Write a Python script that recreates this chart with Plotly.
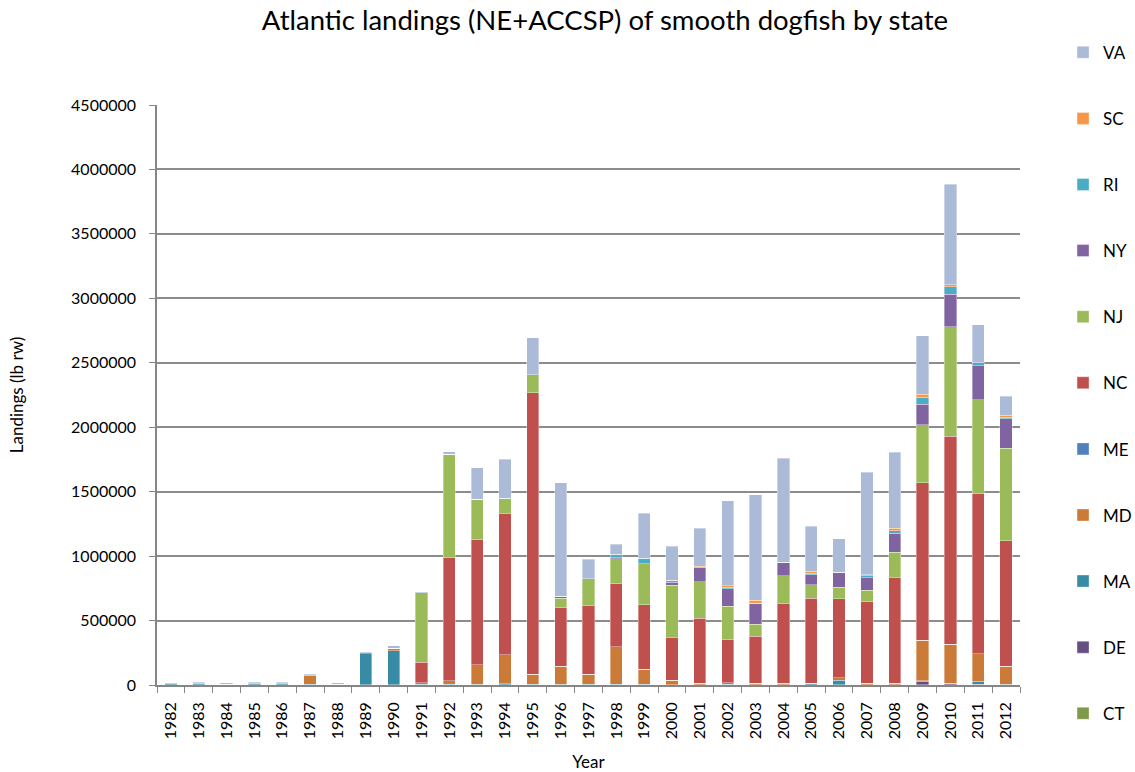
"""Atlantic landings (NE+ACCSP) of smooth dogfish by state - stacked bars."""

import plotly.graph_objects as go

YEARS = [str(y) for y in range(1982, 2013)]

# landings (lb rw) per state, 1982..2012
CT = [3000, 3000, 2000, 3000, 3000, 2000, 3000, 2000, 2000, 2000, 3000, 2000, 2000, 2000, 2000, 2000,
      2000, 2000, 1000, 1000, 2000, 1000, 1000, 1000, 1000, 1000, 1000, 1000, 1000, 1000, 1000]
DE = [0, 0, 0, 0, 0, 0, 0, 0, 0, 0, 0, 0, 0, 0, 0, 0,
      0, 0, 0, 0, 0, 0, 0, 0, 0, 0, 0, 27000, 9000, 3000, 2000]
MA = [5000, 6000, 5000, 5000, 5000, 3000, 4000, 240000, 265000, 2000, 2000, 2000, 8000, 2000, 2000, 2000,
      2000, 2000, 2000, 2000, 2000, 2000, 2000, 8000, 37000, 2000, 2000, 5000, 3000, 25000, 2000]
MD = [0, 0, 0, 0, 0, 65000, 0, 2000, 18000, 13000, 27000, 155000, 225000, 78000, 142000, 78000,
      294000, 118000, 32000, 10000, 12000, 12000, 12000, 5000, 20000, 10000, 12000, 316000, 305000, 215000, 140000]
ME = [0, 0, 0, 0, 0, 0, 0, 0, 0, 0, 0, 0, 0, 0, 0, 0,
      0, 0, 0, 0, 0, 0, 0, 0, 0, 0, 0, 0, 0, 0, 0]
NC = [0, 0, 0, 0, 0, 0, 0, 0, 0, 160000, 955000, 968000, 1097000, 2185000, 452000, 532000,
      487000, 500000, 337000, 503000, 340000, 364000, 620000, 661000, 610000, 634000, 821000, 1222000, 1613000, 1239000, 974000]
NJ = [0, 0, 0, 0, 0, 0, 0, 0, 2000, 540000, 805000, 316000, 115000, 139000, 75000, 211000,
      193000, 318000, 401000, 284000, 254000, 91000, 214000, 102000, 91000, 88000, 193000, 447000, 848000, 730000, 717000]
NY = [0, 0, 0, 0, 0, 0, 0, 8000, 0, 0, 0, 0, 0, 0, 16000, 0,
      11000, 0, 24000, 110000, 136000, 166000, 102000, 78000, 115000, 99000, 150000, 160000, 251000, 265000, 230000]
RI = [0, 0, 0, 0, 0, 0, 0, 0, 0, 0, 0, 0, 3000, 0, 0, 0,
      27000, 45000, 16000, 0, 11000, 0, 0, 13000, 0, 13000, 16000, 54000, 59000, 24000, 13000]
SC = [0, 0, 0, 0, 0, 0, 0, 0, 0, 0, 0, 0, 0, 0, 0, 0,
      0, 0, 0, 13000, 13000, 21000, 0, 13000, 0, 10000, 21000, 24000, 16000, 0, 13000]
VA = [10000, 12000, 10000, 12000, 12000, 13000, 12000, 5000, 16000, 8000, 19000, 241000, 302000, 289000, 880000, 150000,
      78000, 348000, 262000, 292000, 661000, 821000, 808000, 350000, 262000, 794000, 591000, 455000, 781000, 292000, 147000]

STATES = [
    ("CT", CT, "#7F9A48"),
    ("DE", DE, "#664E83"),
    ("MA", MA, "#378BA4"),
    ("MD", MD, "#CC7A37"),
    ("ME", ME, "#4F81BD"),
    ("NC", NC, "#C0504D"),
    ("NJ", NJ, "#9BBB59"),
    ("NY", NY, "#8064A2"),
    ("RI", RI, "#4BACC6"),
    ("SC", SC, "#F79646"),
    ("VA", VA, "#AABAD7"),
]

fig = go.Figure()
for i, (name, vals, color) in enumerate(STATES):
    fig.add_trace(go.Bar(
        name=name, x=YEARS, y=vals, legendgroup=name,
        legendrank=len(STATES) - i,
        marker=dict(color=color, line=dict(color="rgba(255,255,255,0.6)", width=0.6)),
    ))

fig.update_layout(
    barmode="stack",
    bargap=0.56,
    width=1135, height=772,
    margin=dict(l=157, r=115, t=105, b=87, autoexpand=False),
    paper_bgcolor="white", plot_bgcolor="white",
    font=dict(family="Lato, Open Sans, sans-serif", size=16, color="#000000"),
    title=dict(text="Atlantic landings (NE+ACCSP) of smooth dogfish by state",
               x=0.533, xanchor="center", y=0.974, yanchor="middle",
               font=dict(size=27.5, color="#000000")),
    legend=dict(xref="container", yref="container",
                x=0.9366, xanchor="left", y=0.955, yanchor="top",
                traceorder="grouped", tracegroupgap=41, maxheight=760,
                font=dict(size=17), itemwidth=30),
    showlegend=True,
)
fig.update_xaxes(
    title=dict(text="Year", font=dict(size=17), standoff=18),
    tickangle=-90, ticks="outside", tickson="boundaries", ticklen=6,
    ticklabelstandoff=9,
    tickcolor="#868686", showline=True, linecolor="#868686", linewidth=1.5,
    tickfont=dict(size=16), showgrid=False,
)
fig.update_yaxes(
    title=dict(text="Landings (lb rw)", font=dict(size=17), standoff=43),
    range=[0, 4500000], dtick=500000, tickformat="d",
    ticks="outside", ticklen=6, tickcolor="#868686", ticklabelstandoff=10,
    showgrid=True, gridcolor="#8C8C8C", gridwidth=1.5,
    showline=True, linecolor="#868686", linewidth=1.5,
    zeroline=False, tickfont=dict(size=16),
)

# drop the default 8px body margin so the figure fills the window exactly
fig.write_html("out.html", config={"displayModeBar": False},
               post_script="document.body.style.margin='0';")
